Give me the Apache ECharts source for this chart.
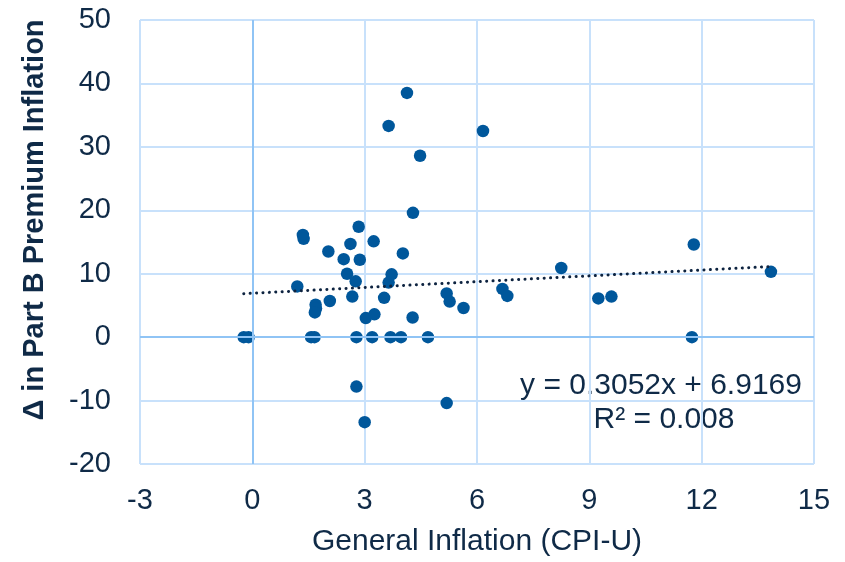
<!DOCTYPE html>
<html>
<head>
<meta charset="utf-8">
<script src="https://cdn.jsdelivr.net/npm/echarts@6/dist/echarts.min.js"></script>
<style>
html,body{margin:0;padding:0;background:#fff;}
#chart{width:845px;height:562px;}
</style>
</head>
<body>
<div id="chart"></div>
<script>
// General inflation (CPI-U, %) by year
var cpiInflation = [-0.23, -0.1, 1.2, 1.35, 1.37, 1.57, 1.66, 1.69, 1.7, 1.67, 2.03, 2.07, 2.44, 2.53, 2.62, 2.67, 2.76, 2.78, 2.78, 2.84, 2.87, 3.0, 3.03, 3.2, 3.24, 3.26, 3.52, 3.64, 3.64, 3.69, 3.72, 3.97, 4.02, 4.13, 4.28, 4.29, 4.48, 4.69, 5.19, 5.19, 5.27, 5.64, 6.16, 6.68, 6.81, 8.25, 9.24, 9.59, 11.74, 11.79, 13.85];
// Change in Part B premium inflation (%)
var partBChange = [0, 0, 8.0, 16.1, 15.5, 0, 0, 5.1, 4.5, 3.9, 13.5, 5.7, 12.3, 10.0, 14.7, 6.4, 8.8, 0, -7.8, 17.4, 12.2, -13.4, 3.0, 0, 15.1, 3.6, 6.2, 8.6, 33.3, 0, 9.9, 0, 13.2, 38.5, 3.1, 19.6, 28.6, 0, 6.9, -10.4, 5.6, 4.6, 32.5, 7.6, 6.5, 10.9, 6.1, 6.4, 0, 14.6, 10.3];
// Linear trendline endpoints (y = 0.3052x + 6.9169)
var trendX = [-0.23, 13.85];
var trendY = [6.85, 11.14];
var xTicks = {min: -3, max: 15, interval: 3};
var yTicks = {min: -20, max: 50, interval: 10};
var xTitle = 'General Inflation (CPI-U)';
var yTitle = 'Δ in Part B Premium Inflation';
var eqLine1 = 'y = 0.3052x + 6.9169';
var eqLine2 = 'R² = 0.008';

var textColor = '#0f2a47';
var font = 'Liberation Sans, Arial, sans-serif';
var scatterData = cpiInflation.map(function (x, i) { return [x, partBChange[i]]; });
var trendData = trendX.map(function (x, i) { return [x, trendY[i]]; });

var chart = echarts.init(document.getElementById('chart'), null, {renderer: 'canvas'});
chart.setOption({
  animation: false,
  backgroundColor: '#fff',
  grid: {left: 140, right: 31, top: 20, bottom: 95, containLabel: false},
  xAxis: {
    type: 'value', min: xTicks.min, max: xTicks.max, interval: xTicks.interval,
    axisLine: {show: false}, axisTick: {show: false},
    splitLine: {show: true, lineStyle: {color: '#c8e1fb', width: 2}},
    axisLabel: {fontSize: 29, color: textColor, fontFamily: font, margin: 22},
    name: xTitle, nameLocation: 'middle', nameGap: 63,
    nameTextStyle: {fontSize: 30, color: textColor, fontFamily: font}
  },
  yAxis: {
    type: 'value', min: yTicks.min, max: yTicks.max, interval: yTicks.interval,
    axisLine: {show: false}, axisTick: {show: false},
    splitLine: {show: true, lineStyle: {color: '#c8e1fb', width: 2}},
    axisLabel: {fontSize: 29, color: textColor, fontFamily: font, margin: 29}
  },
  graphic: [
    {
      type: 'text', x: 35, y: 220, rotation: Math.PI / 2,
      style: {text: yTitle, fill: textColor, font: 'bold 29px Liberation Sans, Arial, sans-serif', align: 'center', verticalAlign: 'middle'}
    },
    {
      type: 'text', x: 661, y: 386,
      style: {text: eqLine1, fill: textColor, font: '30px Liberation Sans, Arial, sans-serif', align: 'center', verticalAlign: 'middle'}
    },
    {
      type: 'text', x: 664, y: 420,
      style: {text: eqLine2, fill: textColor, font: '30px Liberation Sans, Arial, sans-serif', align: 'center', verticalAlign: 'middle'}
    }
  ],
  series: [
    {
      type: 'line', data: [], z: 1, silent: true,
      markLine: {
        silent: true, symbol: 'none', label: {show: false},
        lineStyle: {color: '#90c4f5', width: 2, type: 'solid'},
        data: [{xAxis: 0}, {yAxis: 0}]
      }
    },
    {
      type: 'scatter', data: scatterData, z: 3,
      symbol: 'circle', symbolSize: 12.5,
      itemStyle: {color: '#00579b', opacity: 1}
    },
    {
      type: 'line', data: trendData, z: 4, showSymbol: false, symbol: 'none',
      lineStyle: {color: '#0d2340', width: 3, type: [0.1, 6.3], cap: 'round'}
    }
  ]
});
</script>
</body>
</html>
